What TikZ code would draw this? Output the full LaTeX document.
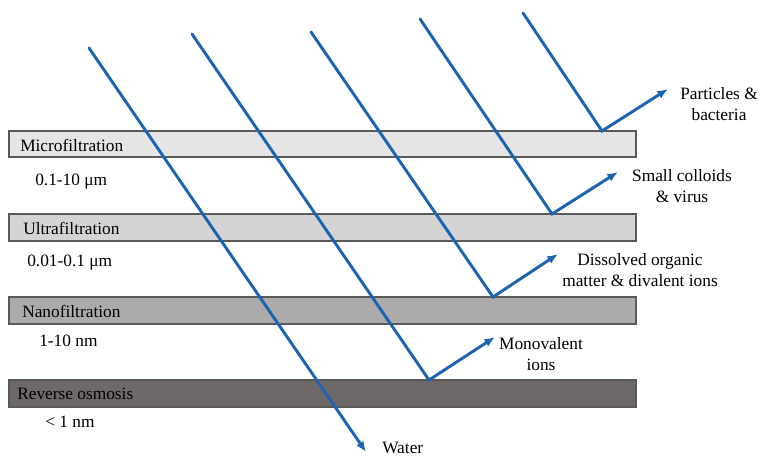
\documentclass[tikz,border=0pt]{standalone}
\usepackage{fontspec}
\setmainfont{Liberation Serif}
\usetikzlibrary{arrows.meta}
\definecolor{flux}{RGB}{28,100,176}
\definecolor{mfgray}{RGB}{229,229,229}
\definecolor{ufgray}{RGB}{212,212,212}
\definecolor{nfgray}{RGB}{171,171,171}
\definecolor{rogray}{RGB}{111,104,104}
\tikzset{
	membrane/.style={draw=black!65,line width=0.9pt},
	flow/.style={flux,line width=2.2pt,line cap=round,line join=miter},
	tip/.style={-{Latex[length=8pt,width=6.5pt]}},
	lab/.style={inner sep=0pt,anchor=west},
	sep/.style={inner sep=0pt,align=center}
}
\begin{document}
\begin{tikzpicture}[x=0.75pt,y=-0.75pt,font=\fontsize{13}{15.5}\selectfont]
			          \useasboundingbox (0,0) rectangle (763,457);
			          %membranes, coarsest on top
			          \draw[membrane,fill=mfgray] (9,131) rectangle (636,157);
			          \draw[membrane,fill=ufgray] (9,214) rectangle (636,241);
			          \draw[membrane,fill=nfgray] (9,297) rectangle (636,324);
			          \draw[membrane,fill=rogray] (9,380) rectangle (636,407);
			          \node[lab] (mf) at (20,145) {Microfiltration};
			          \node[lab] (uf) at (23,228) {Ultrafiltration};
			          \node[lab] (nf) at (22,311) {Nanofiltration};
			          \node[lab] (ro) at (17,394) {Reverse osmosis};
			          \node[lab] (mfsize) at (35,182) {0.1-10 μm};
			          \node[lab] (ufsize) at (27,263) {0.01-0.1 μm};
			          \node[lab] (nfsize) at (39,341) {1-10 nm};
			          \node[lab] (rosize) at (45,422) {< 1 nm};
			          %what is held back
			          \node[sep] (pb) at (719,104) {Particles \&\\bacteria};
			          \node[sep] (cv) at (682,186) {Small colloids\\\& virus};
			          \node[sep] (dom) at (640,270) {Dissolved organic\\matter \& divalent ions};
			          \node[sep] (mv) at (541,354) {Monovalent\\ions};
			          \node[lab] (water) at (382,448) {Water};
			          %feed, reflection points and tips
			          \coordinate (s1) at (89,48);   \coordinate (t1) at (366,452);
			          \coordinate (s2) at (192,34);  \coordinate (r2) at (429,380); \coordinate (t2) at (495,337);
			          \coordinate (s3) at (311,32);  \coordinate (r3) at (493,297); \coordinate (t3) at (558,254);
			          \coordinate (s4) at (420,19);  \coordinate (r4) at (552,214); \coordinate (t4) at (618,172);
			          \coordinate (s5) at (523,13);  \coordinate (r5) at (602,131); \coordinate (t5) at (668,89);
			          \draw[flow,tip] (s1) -- (t1);
			          \draw[flow,tip] (s2) -- (r2) -- (t2);
			          \draw[flow,tip] (s3) -- (r3) -- (t3);
			          \draw[flow,tip] (s4) -- (r4) -- (t4);
			          \draw[flow,tip] (s5) -- (r5) -- (t5);
\end{tikzpicture}
\end{document}
